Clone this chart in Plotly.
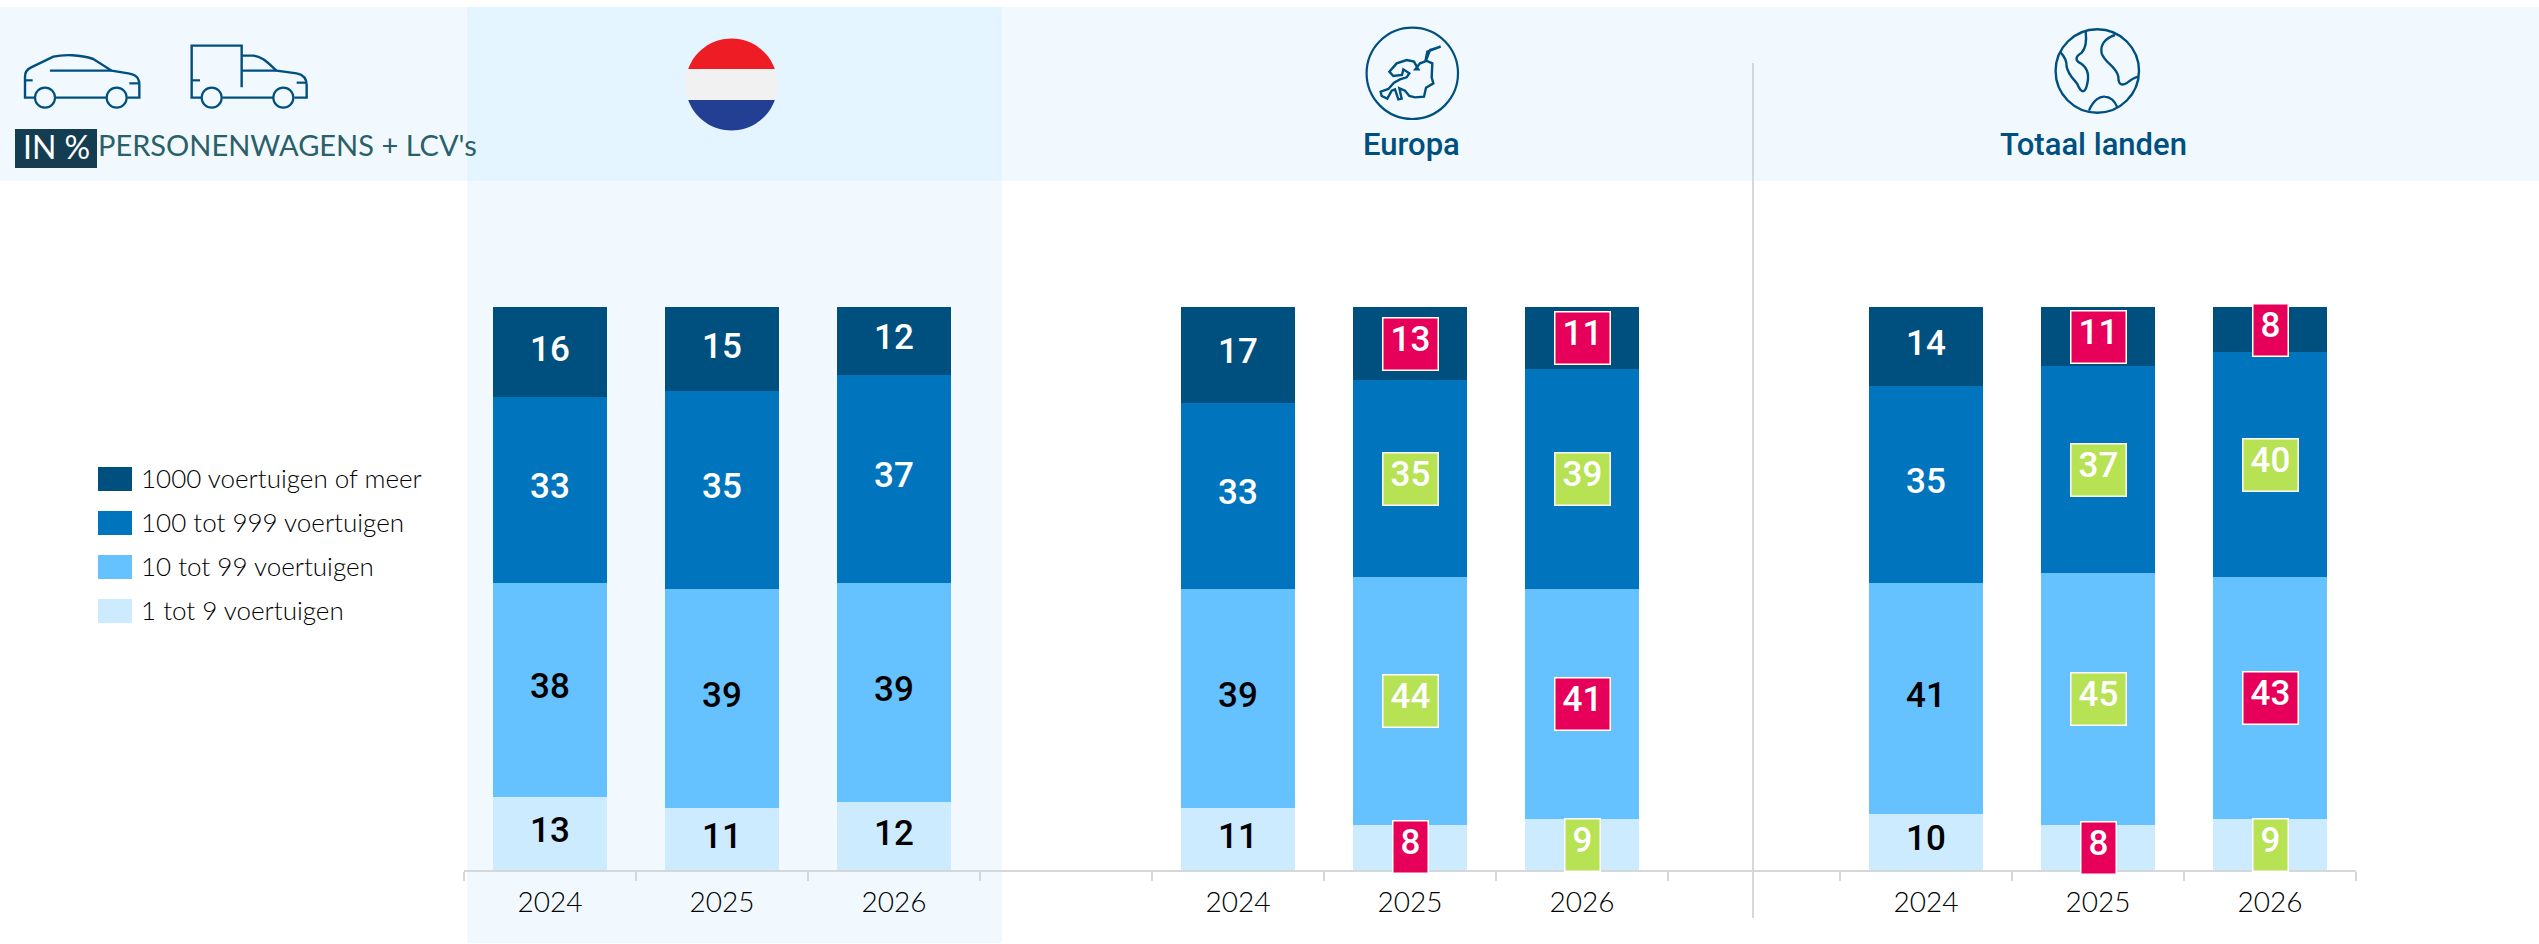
import math
import plotly.graph_objects as go

W, H = 2539, 944

# ---------- data ----------
categories = ["NL 2024", "NL 2025", "NL 2026", " ",
              "EU 2024", "EU 2025", "EU 2026", "  ",
              "TOT 2024", "TOT 2025", "TOT 2026"]
tick_labels = ["2024", "2025", "2026", "", "2024", "2025", "2026", "", "2024", "2025", "2026"]
bar_categories = [c for c in categories if c.strip()]

series_names = ["1 tot 9 voertuigen", "10 tot 99 voertuigen", "100 tot 999 voertuigen", "1000 voertuigen of meer"]
small = [13, 11, 12, 11, 8, 9, 10, 8, 9]
medium = [38, 39, 39, 39, 44, 41, 41, 45, 43]
large = [33, 35, 37, 33, 35, 39, 35, 37, 40]
xlarge = [16, 15, 12, 17, 13, 11, 14, 10.6, 8]
series_values = [small, medium, large, xlarge]
# change marker per value: "" none, "g" green, "r" red
small_flag = ["", "", "", "", "r", "g", "", "r", "g"]
medium_flag = ["", "", "", "", "g", "r", "", "g", "r"]
large_flag = ["", "", "", "", "g", "g", "", "g", "g"]
xlarge_flag = ["", "", "", "", "r", "r", "", "r", "r"]
series_flags = [small_flag, medium_flag, large_flag, xlarge_flag]

series_colors = ["#CCEBFF", "#66C2FF", "#0075BE", "#00507F"]
text_colors = ["#000000", "#000000", "#FFFFFF", "#FFFFFF"]
flag_colors = {"g": "#B6E254", "r": "#E6005A"}

FONT = "Lato"
NUM_FONT = "Roboto"
NAVY = "#00507F"


def X(x):
    return x / W


def Y(y):
    return 1 - y / H


def path(cmds):
    """cmds: list of (letter, [x, y, x, y...]) in page pixels"""
    out = []
    for c, pts in cmds:
        if c == "Z":
            out.append("Z")
            continue
        if c == "L":
            for i in range(0, len(pts), 2):
                out.append(f"L{X(pts[i]):.5f},{Y(pts[i + 1]):.5f}")
            continue
        vals = []
        for i in range(0, len(pts), 2):
            vals.append(f"{X(pts[i]):.5f},{Y(pts[i + 1]):.5f}")
        out.append(c + " ".join(vals))
    return " ".join(out)


def zoom_pts(ox, oy, pts):
    out = []
    for i in range(0, len(pts), 2):
        out += [ox + pts[i] / 3, oy + pts[i + 1] / 3]
    return out


shapes = []


def rect(x0, y0, x1, y1, color, layer="below"):
    shapes.append(dict(type="rect", xref="paper", yref="paper", x0=X(x0), x1=X(x1), y0=Y(y1), y1=Y(y0),
                       fillcolor=color, line=dict(width=0), layer=layer))


def stroke(d, width=2.2, color=NAVY):
    shapes.append(dict(type="path", xref="paper", yref="paper", path=d,
                       line=dict(color=color, width=width), layer="below"))


def circle(cx, cy, r, width=2.2, color=NAVY):
    shapes.append(dict(type="circle", xref="paper", yref="paper", x0=X(cx - r), x1=X(cx + r),
                       y0=Y(cy + r), y1=Y(cy - r), line=dict(color=color, width=width), layer="below"))


def zline(ox, oy, *pts):
    z = zoom_pts(ox, oy, list(pts))
    cmds = [("M", z[:2])] + [("L", z[2:])]
    stroke(path(cmds))


def zcurve(ox, oy, start, *segs):
    cmds = [("M", zoom_pts(ox, oy, list(start)))]
    for s in segs:
        cmds.append((("C" if len(s) == 6 else "L"), zoom_pts(ox, oy, list(s))))
    stroke(path(cmds), width=2.4)


# bands
rect(0, 7, W, 181, "#F1F9FF")
rect(467, 181, 1002, 943, "#F1F9FF")
rect(467, 7, 1002, 181, "#E5F5FF")
# divider
shapes.append(dict(type="line", xref="paper", yref="paper", x0=X(1753), x1=X(1753), y0=Y(918), y1=Y(63),
                   line=dict(color="#C9CDD0", width=1.5), layer="below"))
# IN % box
rect(15, 129, 97, 168, "#143D52")

# car icon
zcurve(10, 30, (75, 203), (45, 203), (45, 140), (45, 125, 52, 118, 62, 113), (130, 80),
       (160, 73, 210, 73, 250, 87), (305, 122), (355, 130), (385, 135, 388, 150, 388, 165), (388, 203), (352, 203))
zline(10, 30, 137, 203, 290, 203)
zline(10, 30, 120, 122, 305, 122)
zline(10, 30, 45, 151, 68, 151)
zline(10, 30, 358, 160, 388, 160)
circle(10 + 105 / 3, 30 + 203 / 3, 10)
circle(10 + 320 / 3, 30 + 203 / 3, 10)
# truck icon
zcurve(10, 30, (575, 203), (545, 203), (545, 47), (695, 47), (695, 172))
zcurve(10, 30, (695, 77), (730, 77), (755, 78, 775, 100, 800, 122), (860, 130), (885, 135, 890, 150, 890, 165),
       (890, 203), (853, 203))
zline(10, 30, 637, 203, 790, 203)
zline(10, 30, 695, 122, 800, 122)
zline(10, 30, 545, 151, 570, 151)
zline(10, 30, 860, 158, 890, 158)
circle(10 + 605 / 3, 30 + 203 / 3, 10)
circle(10 + 820 / 3, 30 + 203 / 3, 10)

# Dutch flag
fx, fy, fr = 731.5, 84.5, 46


def segment(y0, y1, color):
    n = 60
    ys = [y0 + (y1 - y0) * i / n for i in range(n + 1)]
    right = []
    left = []
    for y in ys:
        dx = math.sqrt(max(fr ** 2 - (y - fy) ** 2, 0))
        right += [fx + dx, y]
        left = [fx - dx, y] + left
    pts = right + left
    d = path([("M", pts[:2]), ("L", pts[2:]), ("Z", [])])
    shapes.append(dict(type="path", xref="paper", yref="paper", path=d, fillcolor=color,
                       line=dict(width=0), layer="below"))


segment(fy - fr, 69, "#EE1C25")
segment(69, 100, "#F1F1F1")
segment(100, fy + fr, "#233F94")

# Europe icon
circle(1412.3, 73.3, 45.7)
eu = [272, 80, 240, 90, 228, 122, 247, 130, 245, 172, 250, 190, 228, 203, 222, 230, 195, 232, 178, 228, 165, 212,
      148, 205, 155, 236, 145, 238, 135, 208, 125, 212, 112, 236, 95, 228, 92, 215, 115, 207, 132, 188, 150, 178,
      170, 172, 178, 160, 160, 148, 156, 165, 130, 168, 118, 155, 140, 130, 170, 120, 192, 125, 205, 148, 196, 148,
      210, 130, 226, 124, 232, 95, 272, 80]
eu_z = zoom_pts(1350, 20, eu)
stroke(path([("M", eu_z[:2]), ("L", eu_z[2:])]), width=2.4)

# world icon
circle(2097.3, 71, 41.7, width=2.4)
zcurve(2040, 20, (137, 35), (140, 60, 137, 85, 125, 98), (105, 110, 105, 122, 122, 130), (145, 145, 150, 170, 138, 205),
       (130, 222, 120, 212, 112, 192), (100, 175, 85, 165, 80, 140), (80, 120, 72, 108, 62, 98))
zcurve(2040, 20, (225, 45), (195, 55, 180, 75, 185, 100), (195, 130, 230, 140, 235, 170), (235, 195, 245, 198, 262, 188),
       (275, 178, 285, 172, 295, 170))
zcurve(2040, 20, (147, 272), (160, 240, 180, 228, 195, 230), (215, 232, 225, 245, 232, 262))

# ---------- traces ----------
fig = go.Figure()
for name, vals, col in zip(series_names, series_values, series_colors):
    fig.add_bar(x=bar_categories, y=vals, name=name, marker=dict(color=col, line=dict(width=0)),
                showlegend=False)

# ---------- annotations ----------
annotations = []
for i, cat in enumerate(bar_categories):
    total = sum(s[i] for s in series_values)
    cum = 0
    for vals, flags, tcol in zip(series_values, series_flags, text_colors):
        mid = (cum + vals[i] / 2) / total * 100
        cum += vals[i]
        label = f"{vals[i]:.0f}"
        if flags[i]:
            annotations.append(dict(x=cat, y=mid, xref="x", yref="y", text=label, showarrow=False,
                                    width=54 if len(label) > 1 else 34, height=51, borderpad=0, borderwidth=1.5,
                                    bordercolor="#FFFFFF", bgcolor=flag_colors[flags[i]], align="center",
                                    valign="top", font=dict(family=NUM_FONT, size=35, color="#FFFFFF", weight=500)))
        else:
            annotations.append(dict(x=cat, y=mid, xref="x", yref="y", text=label, showarrow=False, yshift=3,
                                    font=dict(family=NUM_FONT, size=35, color=tcol, weight=500)))


def text(x, y, s, size, color, anchor="left", weight=400, font=FONT):
    annotations.append(dict(x=X(x), y=Y(y), xref="paper", yref="paper", text=s, showarrow=False, xanchor=anchor,
                            yanchor="middle", font=dict(family=font, size=size, color=color, weight=weight)))


# manual legend
leg_rows = list(zip(reversed(series_names), reversed(series_colors)))
for k, (name, col) in enumerate(leg_rows):
    y = 479 + 44 * k
    rect(98, y - 12, 132, y + 12, col)
    text(139, y - 1, name, 26, "#000000", weight=300)

text(56, 147, "IN %", 32, "#FFFFFF", anchor="center")
text(96, 145, "PERSONENWAGENS + LCV's", 29, "#2A6068")
text(1412, 144, "Europa", 31, NAVY, anchor="center", weight=500, font=NUM_FONT)
text(2093, 144, "Totaal landen", 31, NAVY, anchor="center", weight=500, font=NUM_FONT)

fig.update_layout(
    width=W, height=H, margin=dict(l=0, r=0, t=0, b=0), autosize=False,
    barmode="stack", barnorm="percent", bargap=0.335,
    plot_bgcolor="rgba(0,0,0,0)", paper_bgcolor="#FFFFFF",
    shapes=shapes, annotations=annotations,
    xaxis=dict(domain=[464 / W, 2356 / W], type="category", categoryorder="array", categoryarray=categories,
               range=[-0.5, 10.5], tickmode="array", tickvals=categories, ticktext=tick_labels,
               tickson="boundaries", ticks="outside", ticklen=9, tickwidth=1.5, tickcolor="#D5D7D8",
               showline=True, linecolor="#D5D7D8", linewidth=2, showgrid=False, zeroline=False,
               ticklabelstandoff=6,
               tickfont=dict(family=FONT, size=28, color="#000000", weight=300), fixedrange=True),
    yaxis=dict(domain=[1 - 870 / H, 1 - 307 / H], range=[0, 100], visible=False, fixedrange=True),
)

fig.write_html("out.html", config=dict(displayModeBar=False),
               post_script="document.body.style.margin='0';document.body.style.overflow='hidden';")
